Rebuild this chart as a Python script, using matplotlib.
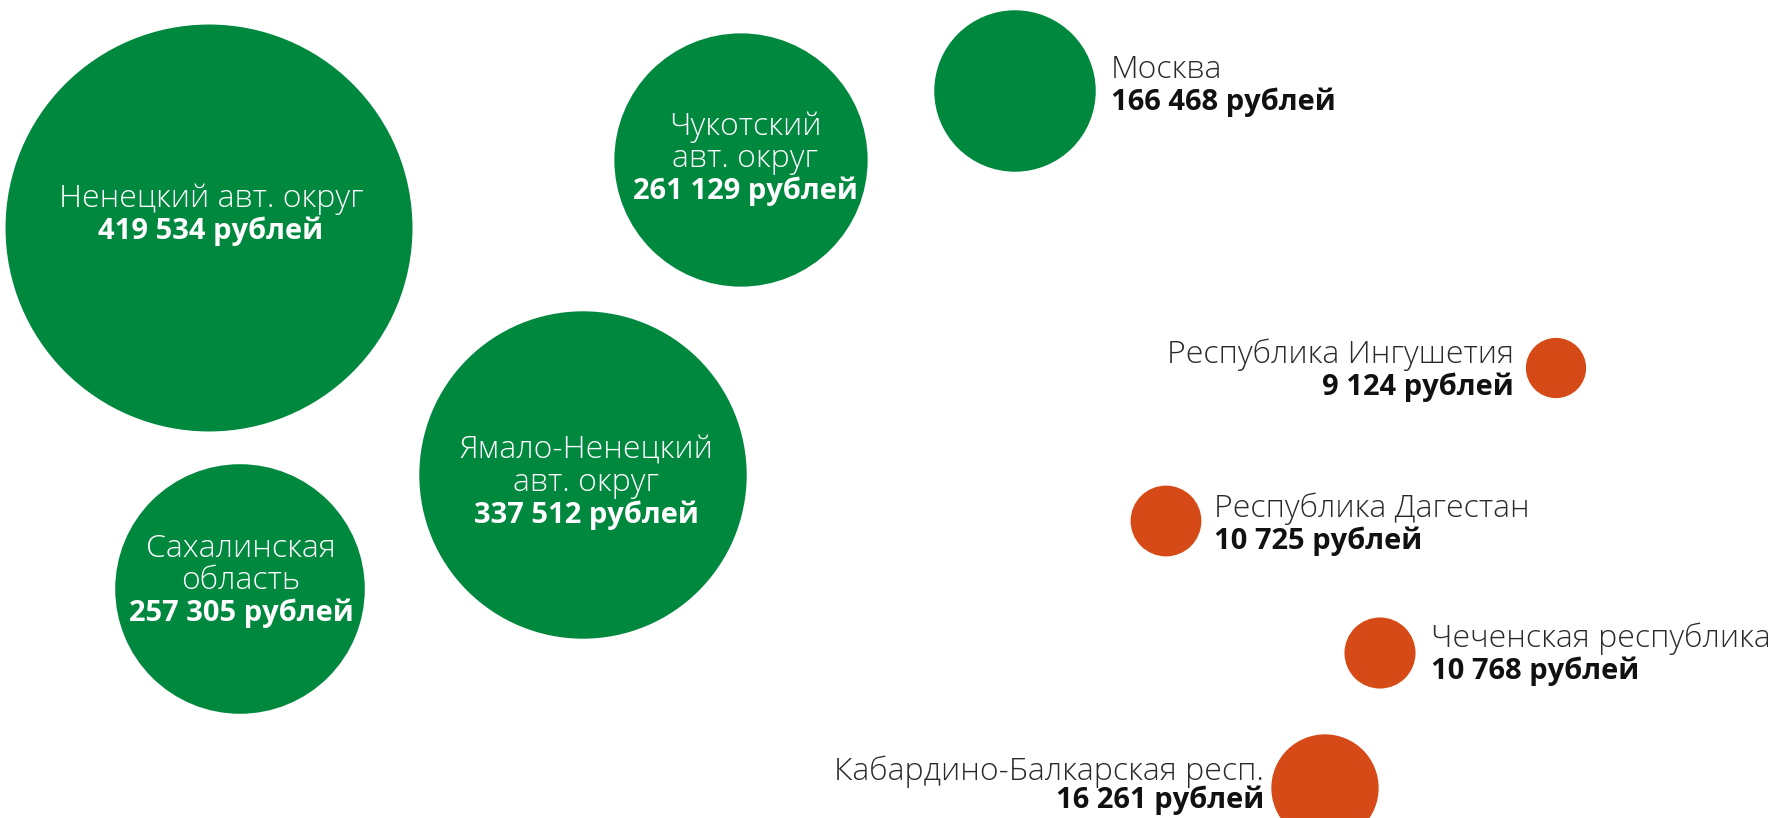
import matplotlib
matplotlib.use("Agg")
import matplotlib.pyplot as plt
from matplotlib.patches import Circle

# ---- data ----
regions = [
    "Ненецкий авт. округ",
    "Чукотский авт. округ",
    "Москва",
    "Ямало-Ненецкий авт. округ",
    "Сахалинская область",
    "Республика Ингушетия",
    "Республика Дагестан",
    "Чеченская республика",
    "Кабардино-Балкарская респ.",
]
values = [419534, 261129, 166468, 337512, 257305, 9124, 10725, 10768, 16261]
groups = ["high", "high", "high", "high", "high", "low", "low", "low", "low"]
name_lines = [
    ["Ненецкий авт. округ"],
    ["Чукотский", "авт. округ"],
    ["Москва"],
    ["Ямало-Ненецкий", "авт. округ"],
    ["Сахалинская", "область"],
    ["Республика Ингушетия"],
    ["Республика Дагестан"],
    ["Чеченская республика"],
    ["Кабардино-Балкарская респ."],
]

# ---- layout / style (pixel canvas) ----
W, H = 1768, 818
centers = [(209, 228), (741, 160), (1015, 91), (583, 475), (240, 589),
           (1556, 368), (1166, 521), (1380, 653), (1325, 788)]
# label anchor: (x, first baseline, ha, inside)
label_pos = [
    (211, 207, "center", True),
    (745, 135, "center", True),
    (1111, 78, "left", False),
    (586, 459, "center", True),
    (241, 557, "center", True),
    (1514, 363, "right", False),
    (1214, 517, "left", False),
    (1431, 647, "left", False),
    (1264, 780, "right", False),
]
line_gap = 32
radius_scale = {"high": 4.85e-4, "low": 3.3e-3}
colors = {"high": "#00883F", "low": "#D54A17"}

plt.rcParams["font.family"] = ["Open Sans", "DejaVu Sans"]

fig = plt.figure(figsize=(W / 100, H / 100), dpi=100)
ax = fig.add_axes([0, 0, 1, 1])
ax.set_xlim(0, W)
ax.set_ylim(H, 0)
ax.set_aspect("equal")
ax.axis("off")

fs_reg = 23
fs_bold = 21
for name, v, g, lines, (cx, cy), (lx, ly, ha, inside) in zip(
        regions, values, groups, name_lines, centers, label_pos):
    r = v * radius_scale[g]
    ax.add_patch(Circle((cx, cy), r, facecolor=colors[g], edgecolor="none"))
    col_reg = "white" if inside else "#2a2a2a"
    col_bold = "white" if inside else "#111111"
    y = ly
    for ln in lines:
        ax.text(lx, y, ln, ha=ha, va="baseline", fontsize=fs_reg, color=col_reg,
                fontweight="light")
        y += line_gap
    val_txt = f"{v:,}".replace(",", " ") + " рублей"
    ax.text(lx, min(y, H - 10), val_txt, ha=ha, va="baseline", fontsize=fs_bold,
            color=col_bold, fontweight="bold")

fig.savefig("out.png", dpi=100, facecolor="white")
